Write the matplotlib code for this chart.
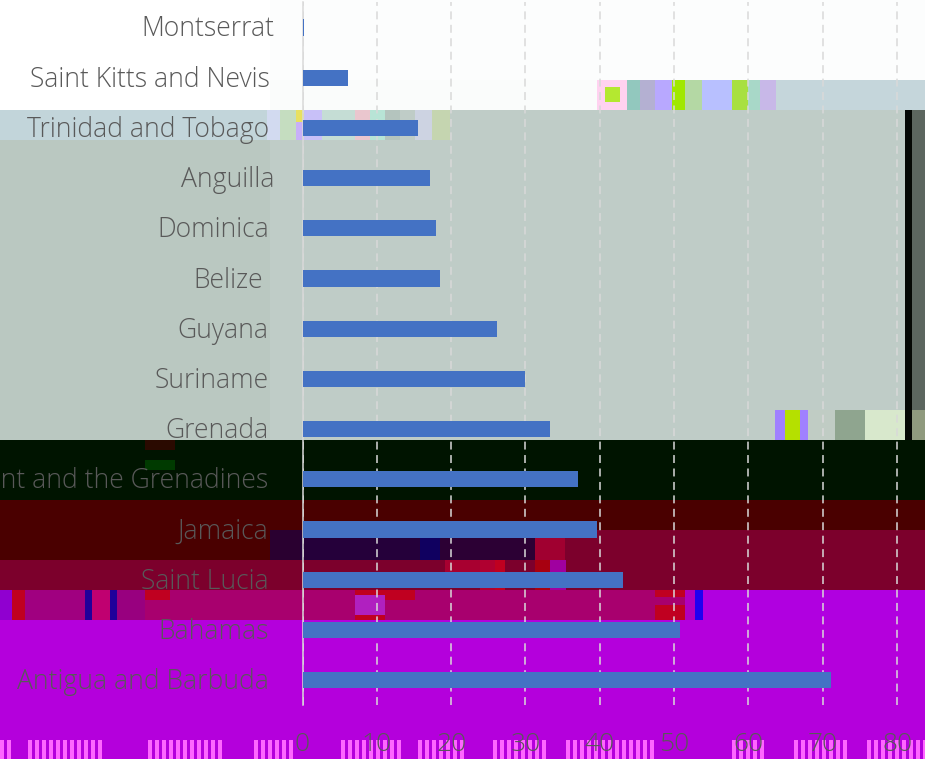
import matplotlib
matplotlib.use("Agg")
import matplotlib.pyplot as plt
from matplotlib.patches import Rectangle
from matplotlib.transforms import ScaledTranslation

W, H = 925, 759

countries = ["Montserrat", "Saint Kitts and Nevis", "Trinidad and Tobago", "Anguilla", "Dominica",
             "Belize", "Guyana", "Suriname", "Grenada", "Saint Vincent and the Grenadines",
             "Jamaica", "Saint Lucia", "Bahamas", "Antigua and Barbuda"]
values = [0.2, 6.1, 15.5, 17.2, 18.0, 18.5, 26.1, 29.9, 33.3, 37.0, 39.6, 43.1, 50.8, 71.1]
x_ticks = [0, 10, 20, 30, 40, 50, 60, 70, 80]
label_gap_px = [28, 33, 34, 28, 34, 40, 34, 34, 34, 34, 34, 34, 34, 34]

TEXT = "#595959"
FONT = "Open Sans"

# corrupted background of the reference: (x0, x1, y0, y1, colour) in image pixels
background_blocks = [
    (0, 925, 0, 110, "#FFFFFF"), (270, 925, 0, 80, "#FCFDFD"), (270, 597, 80, 110, "#FAFCFB"),
    (597, 925, 80, 110, "#C5D6DB"),
    (597, 627, 80, 110, "#FFD2F0"), (605, 620, 87, 102, "#B4E830"), (627, 640, 80, 110, "#92C8BE"),
    (640, 655, 80, 110, "#B4B0D2"), (655, 672, 80, 110, "#B8A8FF"), (672, 685, 80, 110, "#A0E800"),
    (685, 702, 80, 110, "#B4D8A4"), (702, 732, 80, 110, "#B8C0FF"), (732, 748, 80, 110, "#A8E040"),
    (748, 760, 80, 110, "#A8D8C8"), (760, 776, 80, 110, "#C8B8E8"),
    (0, 925, 110, 440, "#BFCCC7"), (0, 267, 110, 140, "#C2D5DA"), (0, 270, 140, 440, "#BAC8C1"),
    (267, 280, 110, 140, "#D2DAF0"), (280, 296, 110, 140, "#C5DDC0"), (296, 304, 110, 122, "#E8E060"),
    (296, 304, 122, 140, "#C8B0F8"), (304, 322, 110, 140, "#C8C0F8"), (322, 355, 110, 140, "#C5DDD5"),
    (355, 370, 110, 140, "#EAC6CE"), (370, 385, 110, 140, "#B8E4D6"), (385, 400, 110, 140, "#B4C4BE"),
    (415, 432, 110, 140, "#CDD3E2"), (432, 450, 110, 140, "#C5D5B0"),
    (775, 785, 410, 440, "#A080FF"), (785, 800, 410, 440, "#B5E000"), (800, 808, 410, 440, "#A080FF"),
    (808, 835, 410, 440, "#C0CCC4"), (835, 865, 410, 440, "#8FA58F"), (865, 905, 410, 440, "#D8E8CC"),
    (905, 912, 110, 440, "#050805"), (912, 925, 110, 410, "#5C665F"), (912, 925, 410, 440, "#8F9A7E"),
    (0, 925, 440, 500, "#001400"), (145, 175, 440, 450, "#2A0A00"), (145, 175, 460, 470, "#003A00"),
    (0, 925, 500, 530, "#4A0000"), (0, 270, 530, 560, "#4A0000"),
    (270, 300, 530, 560, "#2A0030"), (300, 420, 530, 560, "#25003A"), (420, 440, 530, 560, "#100060"),
    (440, 535, 530, 560, "#2C0034"), (535, 565, 530, 560, "#A00030"), (565, 925, 530, 560, "#7C002C"),
    (0, 925, 560, 590, "#7C002C"), (445, 480, 560, 572, "#A80030"), (480, 495, 560, 590, "#B00030"),
    (495, 505, 560, 590, "#C00020"), (535, 550, 560, 590, "#A80010"), (550, 566, 560, 590, "#A000A0"),
    (0, 925, 590, 620, "#A8006E"), (0, 12, 590, 620, "#9000D0"), (12, 25, 590, 620, "#C00020"),
    (25, 85, 590, 620, "#A00080"), (85, 92, 590, 620, "#20009A"), (92, 110, 590, 620, "#C00070"),
    (110, 117, 590, 620, "#20009A"), (117, 145, 590, 620, "#98007F"), (145, 170, 590, 600, "#C00020"),
    (355, 385, 590, 595, "#C00020"), (355, 385, 595, 615, "#B020C0"), (355, 385, 615, 620, "#C00020"),
    (385, 415, 590, 600, "#C00020"), (655, 685, 590, 597, "#C00020"), (655, 685, 605, 620, "#C00020"),
    (685, 695, 590, 620, "#B000C0"), (695, 703, 590, 620, "#2000F0"), (703, 925, 590, 620, "#B000E0"),
    (0, 925, 620, 759, "#B400DC"),
]
stripe_clusters = [(0, 9), (28, 100), (148, 220), (254, 295), (341, 398), (418, 466),
                   (493, 549), (566, 655), (732, 761), (794, 850), (867, 925)]

fig = plt.figure(figsize=(W / 100, H / 100), dpi=100)
bg = fig.add_axes([0, 0, 1, 1], zorder=0)
bg.set_xlim(0, W)
bg.set_ylim(H, 0)
bg.axis("off")
for x0, x1, y0, y1, c in background_blocks:
    bg.add_patch(Rectangle((x0, y0), x1 - x0, y1 - y0, fc=c, ec="none"))
for a, b in stripe_clusters:
    for x in range(a, b, 7):
        bg.add_patch(Rectangle((x, 740), 3.5, 19, fc="#FF66FF", ec="none"))

left, right, top, bottom = 302.5, 925, 2.4, 705.2
ax = fig.add_axes([left / W, 1 - bottom / H, (right - left) / W, (bottom - top) / H], zorder=1)
ax.patch.set_alpha(0)
positions = list(range(len(countries)))
ax.barh(positions, values, height=0.32, color="#4472C4", zorder=3)
ax.set_xlim(0, (right - left) / 7.433)
ax.set_ylim(len(countries) - 0.5, -0.5)
ax.set_xticks(x_ticks)
ax.set_yticks(positions)
ax.set_yticklabels(countries, family=FONT, weight="light", fontsize=19.1, color=TEXT)
ax.set_xticklabels([str(t) for t in x_ticks], family=FONT, weight="light", fontsize=19, color=TEXT)
ax.tick_params(length=0)
ax.tick_params(axis="x", pad=19)
for tick, gap in zip(ax.get_yticklabels(), label_gap_px):
    tick.set_transform(tick.get_transform() + ScaledTranslation(-(gap - 5) / 100, 1.5 / 100, fig.dpi_scale_trans))
for s in ["top", "right", "bottom"]:
    ax.spines[s].set_visible(False)
ax.spines["left"].set_color("#D9D9D9")
ax.spines["left"].set_linewidth(1.1)
ax.xaxis.grid(True, color="#D9D9D9", linewidth=1.1, linestyle=(0, (5.2, 3.6)), zorder=1)
ax.set_axisbelow(True)
fig.savefig("out.png", dpi=100)
